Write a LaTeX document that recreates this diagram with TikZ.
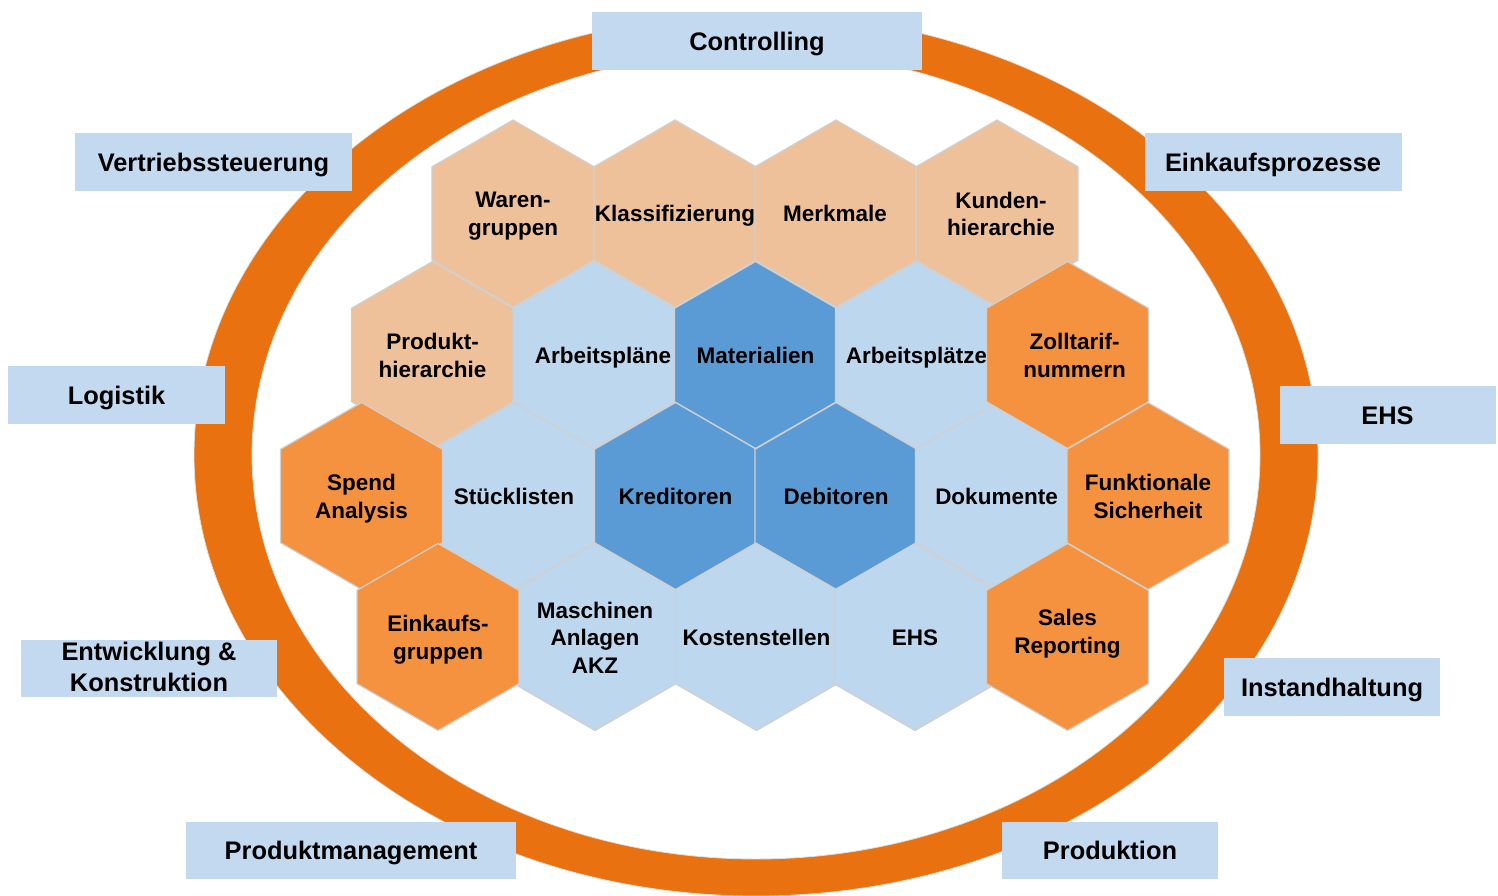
\documentclass[tikz,border=0pt]{standalone}
\usepackage{fontspec}
\setmainfont{Liberation Sans}
\usetikzlibrary{shapes.geometric}

\definecolor{ringorange}{HTML}{E97110}
\definecolor{hexpeach}{HTML}{EEC19A}
\definecolor{hexlight}{HTML}{BDD7EE}
\definecolor{hexmid}{HTML}{5B9BD5}
\definecolor{hexorange}{HTML}{F5923F}
\definecolor{hexline}{HTML}{D0D0D0}
\definecolor{boxblue}{HTML}{C2D9EF}

% struts so that all lines sit on the same baseline
\newcommand{\hexstrut}{\rule[-5pt]{0pt}{26.4pt}}
\newcommand{\boxstrut}{\rule[-5.5pt]{0pt}{29.5pt}}

% one hexagon cell: [text shift] {x}{y}{colour}{name}{text}
\newcommand{\hexcell}[6][]{%
  \node[hexagon, fill=#4] (#5) at (#2,#3) {};
  \node[hextext, #1] (#5-txt) at (#5) {#6};}

\begin{document}
\begin{tikzpicture}[x=1pt,y=-1pt,
    hexagon/.style={regular polygon, regular polygon sides=6, shape border rotate=30,
      minimum size=187pt, inner sep=0pt, outer sep=0pt, draw=hexline, line width=1.2pt},
    hextext/.style={font=\fontsize{22.5}{27.5}\selectfont\bfseries, align=center, inner sep=0pt,
      execute at begin node=\hexstrut, execute at end node=\hexstrut},
    multiline/.style={yshift=-3pt},
    labelbox/.style={fill=boxblue, minimum height=57.5pt, inner sep=0pt,
      font=\fontsize{25.4}{31}\selectfont\bfseries, align=center,
      execute at begin node=\boxstrut, execute at end node=\boxstrut}]
    \useasboundingbox (0,0) rectangle (1498,896);

    % outer ring
    \fill[ringorange, draw=black!12, line width=0.8pt, even odd rule]
      (756,455) ellipse [x radius=562pt, y radius=441pt]
      (756,455) ellipse [x radius=504pt, y radius=404pt];

    % inner hexagons (peach and blue)
    \hexcell[multiline]{513}{213.5}{hexpeach}{waren}{Waren-\\gruppen}
    \hexcell{675}{213.5}{hexpeach}{klass}{Klassifizierung}
    \hexcell[xshift=-1pt]{836}{213.5}{hexpeach}{merkmale}{Merkmale}
    \hexcell[multiline, xshift=4pt]{997}{213.5}{hexpeach}{kunden}{Kunden-\\hierarchie}
    \hexcell[multiline]{432.5}{355}{hexpeach}{produkt}{Produkt-\\hierarchie}
    \hexcell[xshift=9pt]{594}{355}{hexlight}{arbplan}{Arbeitspläne}
    \hexcell{755.5}{355}{hexmid}{material}{Materialien}
    \hexcell{916.5}{355}{hexlight}{arbplatz}{Arbeitsplätze}
    \hexcell{514}{496}{hexlight}{stueck}{Stücklisten}
    \hexcell{675.5}{496}{hexmid}{kredit}{Kreditoren}
    \hexcell{836}{496}{hexmid}{debit}{Debitoren}
    \hexcell{996.5}{496}{hexlight}{doku}{Dokumente}
    \hexcell[multiline]{595}{637}{hexlight}{masch}{Maschinen\\Anlagen\\AKZ}
    \hexcell{756.5}{637}{hexlight}{kosten}{Kostenstellen}
    \hexcell{915}{637}{hexlight}{ehs}{EHS}

    % orange hexagons lie on top
    \hexcell[multiline, xshift=7pt]{1067.5}{355}{hexorange}{zoll}{Zolltarif-\\nummern}
    \hexcell[multiline]{361.5}{496}{hexorange}{spend}{Spend\\Analysis}
    \hexcell[multiline]{1148}{496}{hexorange}{funktion}{Funktionale\\Sicherheit}
    \hexcell[multiline]{438}{637}{hexorange}{einkauf}{Einkaufs-\\gruppen}
    \hexcell[yshift=3pt]{1067.5}{637}{hexorange}{sales}{Sales\\Reporting}

    % labels round the ring
    \node[labelbox, minimum width=330pt] (controlling) at (757,41)     {Controlling};
    \node[labelbox, minimum width=277pt] (vertrieb)    at (213.5,162)  {Vertriebssteuerung};
    \node[labelbox, minimum width=257pt] (einkaufpro)  at (1273,162)   {Einkaufsprozesse};
    \node[labelbox, minimum width=217pt] (logistik)    at (116.5,395)  {Logistik};
    \node[labelbox, minimum width=216pt] (ehslabel)    at (1387.5,415) {EHS};
    \node[labelbox, minimum width=256pt, execute at begin node=, execute at end node=]
      (entwicklung) at (149,668.5) {\raisebox{-2.5pt}{Entwicklung \&}\\\raisebox{-2.5pt}{Konstruktion}};
    \node[labelbox, minimum width=216pt] (instand)     at (1332,687)   {Instandhaltung};
    \node[labelbox, minimum width=330pt] (prodman)     at (351,850.5)  {Produktmanagement};
    \node[labelbox, minimum width=216pt] (produktion)  at (1110,850.5) {Produktion};
\end{tikzpicture}
\end{document}
